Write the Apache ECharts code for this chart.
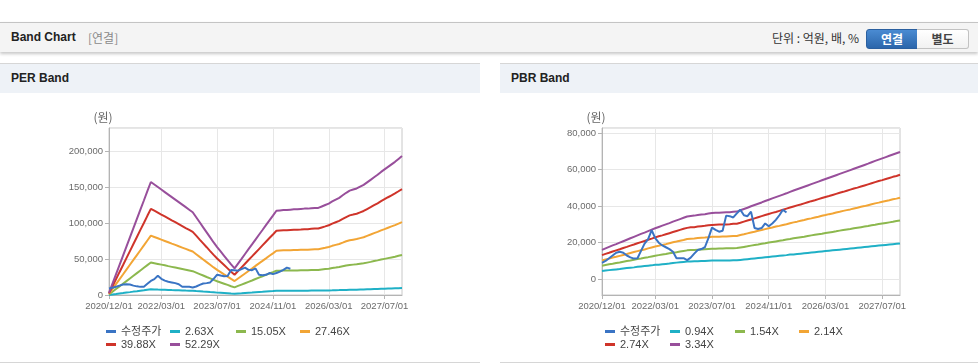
<!DOCTYPE html>
<html>
<head>
<meta charset="utf-8">
<script src="https://cdn.jsdelivr.net/npm/echarts@6/dist/echarts.min.js"></script>
<style>
html,body{margin:0;padding:0;}
body{width:978px;height:364px;background:#fff;position:relative;overflow:hidden;font-family:"Liberation Sans","Noto Sans CJK KR",sans-serif;}
.topbar{position:absolute;left:0;top:22px;width:978px;height:29px;background:#f4f4f4;border-top:1px solid #c4c4c4;box-shadow:0 2px 3px rgba(0,0,0,0.22);}
.topbar .ttl{position:absolute;left:11px;top:0;line-height:29px;font-size:12px;font-weight:bold;color:#222;}
.topbar .sub{position:absolute;left:88px;top:0;line-height:29px;font-size:12px;color:#8a8a8a;font-family:"Noto Sans CJK KR",sans-serif;}
.topbar .unit{position:absolute;right:119px;top:0;line-height:29px;font-size:12px;color:#333;font-family:"Noto Sans CJK KR",sans-serif;}
.btn{position:absolute;top:6px;height:18px;line-height:18px;width:50px;text-align:center;font-size:12px;font-weight:bold;font-family:"Noto Sans CJK KR",sans-serif;}
.btn.on{left:866px;background:linear-gradient(#4a8bd2,#2b66ab);color:#fff;border:1px solid #2a5f9f;border-radius:3px 0 0 3px;}
.btn.off{left:917px;background:linear-gradient(#ffffff,#f1f1f1);color:#444;border:1px solid #c2c2c2;border-left:none;border-radius:0 3px 3px 0;width:51px;}
.panel{position:absolute;top:63px;height:298px;border-top:1px solid #d6d6d6;border-bottom:1px solid #d6d6d6;background:#fff;}
.panel .hd{height:29px;line-height:29px;background:#eef2f7;padding-left:11px;font-size:12px;font-weight:bold;color:#222;}
.chart{position:absolute;top:93px;height:268px;}
</style>
</head>
<body>
<div class="topbar">
  <div class="ttl">Band Chart</div>
  <div class="sub">[연결]</div>
  <div class="unit">단위 : 억원, 배, %</div>
  <div class="btn on">연결</div>
  <div class="btn off">별도</div>
</div>
<div class="panel" style="left:0;width:480px;"><div class="hd">PER Band</div></div>
<div class="panel" style="left:500px;width:478px;"><div class="hd">PBR Band</div></div>
<div id="perChart" class="chart" style="left:0;width:480px;"></div>
<div id="pbrChart" class="chart" style="left:500px;width:478px;"></div>
<script>
const months = [
'2020/12/01',
'2021/01/01','2021/02/01','2021/03/01','2021/04/01','2021/05/01','2021/06/01','2021/07/01','2021/08/01','2021/09/01','2021/10/01','2021/11/01','2021/12/01',
'2022/01/01','2022/02/01','2022/03/01','2022/04/01','2022/05/01','2022/06/01','2022/07/01','2022/08/01','2022/09/01','2022/10/01','2022/11/01','2022/12/01',
'2023/01/01','2023/02/01','2023/03/01','2023/04/01','2023/05/01','2023/06/01','2023/07/01','2023/08/01','2023/09/01','2023/10/01','2023/11/01','2023/12/01',
'2024/01/01','2024/02/01','2024/03/01','2024/04/01','2024/05/01','2024/06/01','2024/07/01','2024/08/01','2024/09/01','2024/10/01','2024/11/01','2024/12/01',
'2025/01/01','2025/02/01','2025/03/01','2025/04/01','2025/05/01','2025/06/01','2025/07/01','2025/08/01','2025/09/01','2025/10/01','2025/11/01','2025/12/01',
'2026/01/01','2026/02/01','2026/03/01','2026/04/01','2026/05/01','2026/06/01','2026/07/01','2026/08/01','2026/09/01','2026/10/01','2026/11/01','2026/12/01',
'2027/01/01','2027/02/01','2027/03/01','2027/04/01','2027/05/01','2027/06/01','2027/07/01','2027/08/01','2027/09/01','2027/10/01','2027/11/01','2027/12/01'
];
const tickLabels = ['2020/12/01','2022/03/01','2023/07/01','2024/11/01','2026/03/01','2027/07/01'];

const adjPrice = [
9000,10000,11500,13000,14500,15000,14500,13000,12000,11300,
11500,15500,19500,22000,26800,22500,20000,18500,17500,16500,
15000,11500,11500,11500,10500,11800,14000,16000,16500,17500,
22500,28200,27000,26000,26500,34800,34500,33800,36000,38000,
35000,34500,37000,28000,27500,28000,30500,29000,30500,32500,
35000,38000,36500
];

const perNames = ['수정주가','2.63X','15.05X','27.46X','39.88X','52.29X'];
const per263 = [
150,800,1400,2100,2700,3400,4000,4700,5300,6000,
6600,7300,7900,7700,7500,7400,7200,7000,6800,6700,
6500,6300,6100,6000,5800,5400,5100,4700,4400,4000,
3700,3300,3000,2700,2400,2100,1900,2200,2500,2900,
3200,3500,3900,4200,4500,4900,5200,5500,5900,5900,
5900,5900,6000,6000,6000,6000,6000,6000,6100,6100,
6100,6200,6300,6400,6500,6700,6800,7000,7100,7300,
7400,7400,7600,7700,7900,8000,8200,8400,8600,8800,
9000,9100,9300,9500,9700];
const per1505 = [
900,4500,8300,11900,15600,19300,23000,26700,30400,34100,
37800,41500,45200,44200,43200,42200,41200,40100,39100,38100,
37100,36100,35100,34100,33100,31100,29100,27100,25000,23000,
21000,19100,17400,15700,14000,12200,10600,12600,14500,16400,
18300,20200,22200,24100,26000,27900,29800,31700,33700,33800,
34000,34000,34100,34200,34200,34400,34500,34500,34700,34800,
34800,35400,36000,36600,37400,38100,38900,39900,40900,41700,
42200,42600,43300,44000,45000,46000,47100,48100,49200,50200,
51200,52200,53200,54400,55500];
const per2746 = [
1600,8300,15100,21800,28500,35300,42000,48700,55500,62200,
68900,75700,82400,80600,78800,76900,75100,73300,71400,69600,
67700,65900,64100,62200,60400,56700,53000,49400,45700,42000,
38300,34900,31800,28600,25500,22300,19400,22900,26400,29900,
33400,36900,40400,44000,47400,50900,54500,57900,61400,61700,
62000,62000,62200,62500,62500,62800,63000,63000,63300,63500,
63500,64600,65600,66700,68300,69600,70900,72700,74600,76100,
76900,77700,79000,80300,82200,84000,85900,87700,89800,91600,
93500,95300,97100,99200,101300];
const per3988 = [
2300,12100,21900,31700,41400,51300,61000,70800,80600,90400,
100100,110000,119700,117100,114400,111700,109100,106400,103700,101100,
98400,95700,93000,90400,87700,82400,77000,71700,66400,61000,
55700,50700,46100,41600,37000,32400,28200,33300,38400,43500,
48600,53600,58700,63800,68900,74000,79100,84100,89200,89600,
90000,90000,90400,90800,90800,91100,91500,91500,91900,92300,
92300,93800,95300,96900,99200,101100,103000,105600,108300,110600,
111700,112900,114800,116700,119400,122000,124700,127400,130400,133100,
135800,138400,141100,144100,147200];
const per5229 = [
3000,15800,28700,41500,54300,67200,80000,92800,105700,118500,
131300,144200,157000,153500,150000,146500,143000,139500,136000,132500,
129000,125500,122000,118500,115000,108000,101000,94000,87000,80000,
73000,66500,60500,54500,48500,42500,37000,43700,50300,57000,
63700,70300,77000,83700,90300,97000,103700,110300,117000,117500,
118000,118000,118500,119000,119000,119500,120000,120000,120500,121000,
121000,123000,125000,127000,130000,132500,135000,138500,142000,145000,
146500,148000,150500,153000,156500,160000,163500,167000,171000,174500,
178000,181500,185000,189000,193000];

const pbrNames = ['수정주가','0.94X','1.54X','2.14X','2.74X','3.34X'];
const pbr094 = [
4500,4800,5000,5200,5400,5600,5900,6100,6300,6500,
6800,7000,7200,7400,7600,7900,8000,8200,8400,8600,
8900,9100,9300,9500,9700,9700,9800,9900,10000,10000,
10100,10200,10200,10200,10300,10300,10300,10400,10400,10600,
10800,11000,11200,11400,11600,11800,12000,12200,12400,12600,
12800,13000,13200,13500,13600,13800,14000,14200,14400,14600,
14800,15000,15200,15400,15600,15800,16000,16200,16400,16600,
16800,17000,17200,17400,17600,17800,18000,18200,18400,18600,
18800,19000,19200,19400,19600];
const pbr154 = [
7400,7800,8200,8500,8900,9200,9600,10000,10300,10700,
11100,11400,11800,12100,12500,12900,13200,13500,13800,14200,
14500,14800,15200,15500,15800,16000,16000,16200,16300,16400,
16600,16700,16700,16800,16800,16900,16900,17000,17100,17400,
17700,18000,18400,18700,19000,19400,19700,20100,20400,20700,
21000,21300,21700,22000,22400,22700,23000,23300,23700,24000,
24300,24600,24900,25300,25600,25900,26200,26600,26900,27200,
27500,27900,28200,28500,28800,29100,29500,29800,30200,30500,
30800,31100,31400,31800,32100];
const pbr214 = [
10300,10800,11300,11900,12300,12800,13300,13800,14400,14900,
15400,15900,16300,16900,17400,17900,18300,18800,19200,19700,
20200,20600,21100,21500,22000,22200,22300,22500,22700,22800,
23000,23200,23300,23300,23400,23400,23500,23600,23700,24200,
24600,25100,25600,26000,26500,26900,27400,27900,28300,28800,
29200,29700,30100,30600,31100,31500,32000,32400,32900,33300,
33800,34200,34700,35100,35600,36000,36500,36900,37400,37800,
38200,38700,39100,39600,40000,40500,41000,41500,41900,42400,
42800,43200,43700,44100,44600];
const pbr274 = [
13200,13900,14500,15200,15800,16400,17100,17700,18400,19000,
19700,20300,20900,21600,22200,22900,23500,24000,24600,25200,
25800,26400,27000,27600,28100,28400,28500,28800,29000,29200,
29500,29700,29800,29900,29900,30000,30100,30300,30400,30900,
31500,32100,32700,33300,33900,34500,35100,35700,36300,36800,
37400,38000,38600,39200,39800,40400,40900,41500,42100,42700,
43200,43800,44400,45000,45500,46100,46700,47300,47800,48400,
49000,49600,50100,50700,51300,51900,52500,53100,53700,54200,
54800,55400,56000,56500,57100];
const pbr334 = [
16100,16900,17700,18500,19200,20000,20800,21600,22400,23200,
24000,24800,25500,26300,27100,27900,28600,29300,30000,30700,
31500,32200,32900,33600,34300,34600,34800,35100,35400,35600,
35900,36200,36300,36400,36500,36600,36700,36900,37000,37700,
38400,39100,39900,40600,41300,42000,42800,43500,44200,44900,
45600,46300,47000,47800,48500,49200,49900,50600,51300,52000,
52700,53400,54100,54800,55500,56200,56900,57600,58300,59000,
59700,60400,61100,61800,62500,63200,64000,64700,65400,66100,
66800,67500,68200,68900,69600];

const colors = ['#3a74c4','#1fb0c6','#8cb84e','#f2a535','#cf342a','#984f9b'];
const axisFont = '"Liberation Sans",sans-serif';
const tickSet = new Set(tickLabels);
const showTick = (idx, val) => tickSet.has(val === undefined ? months[idx] : val);

function build(el, names, bands, yCfg, gridLeft, legendCols) {
  const chart = echarts.init(document.getElementById(el), null, {renderer: 'canvas'});
  const all = [adjPrice].concat(bands);
  const series = [];
  for (let k = 1; k < all.length; k++) {
    series.push({name: names[k], type: 'line', data: all[k], symbol: 'none', showSymbol: false,
      lineStyle: {width: 2, color: colors[k]}, itemStyle: {color: colors[k]}, z: 2, silent: true});
  }
  series.push({name: names[0], type: 'line', data: all[0], symbol: 'none', showSymbol: false,
    lineStyle: {width: 2, color: colors[0]}, itemStyle: {color: colors[0]}, z: 3, silent: true});
  const legends = names.map((n, k) => ({
    left: legendCols[k % 4], top: k < 4 ? 233 : 246, padding: 0, itemGap: 0, itemWidth: 10, itemHeight: 3,
    icon: 'rect', selectedMode: false, data: [n],
    textStyle: {fontSize: 11, color: '#444', fontFamily: '"Liberation Sans","Noto Sans CJK KR",sans-serif'}
  }));
  chart.setOption({
    animation: false,
    grid: {left: gridLeft, right: 78, top: 35, bottom: 66, show: true, borderColor: '#c8c8c8', borderWidth: 1},
    legend: legends,
    xAxis: {
      type: 'category', data: months, boundaryGap: false,
      axisLine: {onZero: false, lineStyle: {color: '#b4b4b4'}},
      axisTick: {show: true, interval: showTick, length: 4, lineStyle: {color: '#b4b4b4'}},
      axisLabel: {interval: showTick, showMinLabel: true, hideOverlap: false, color: '#6b6b6b', fontSize: 9.5, fontFamily: axisFont, margin: 6},
      splitLine: {show: true, interval: showTick, lineStyle: {color: '#e7e7e7'}}
    },
    yAxis: Object.assign({
      type: 'value', name: '(원)', nameLocation: 'end', nameGap: 5,
      nameTextStyle: {color: '#666', fontSize: 12, padding: [0, 12, 0, 0], fontFamily: '"Noto Sans CJK KR",sans-serif'},
      axisLine: {show: true, lineStyle: {color: '#b4b4b4'}},
      axisTick: {show: true, length: 4, lineStyle: {color: '#b4b4b4'}},
      splitLine: {show: true, lineStyle: {color: '#e7e7e7'}}
    }, yCfg),
    series: series
  });
}

function fmt(step) {
  return function (v) {
    if (v === 0) return '0';
    if (Math.abs(v % step) > 1e-6) return '';
    return Math.round(v).toLocaleString('en-US');
  };
}

build('perChart', perNames, [per263, per1505, per2746, per3988, per5229],
  {min: 0, max: 232000, interval: 50000,
   axisLabel: {formatter: fmt(50000), showMaxLabel: false, color: '#6b6b6b', fontSize: 9.5, fontFamily: axisFont, margin: 6}},
  109, [106, 170, 236, 300]);

build('pbrChart', pbrNames, [pbr094, pbr154, pbr214, pbr274, pbr334],
  {min: -8600, max: 82700, splitNumber: 5,
   axisLabel: {formatter: fmt(20000), showMinLabel: false, showMaxLabel: false, color: '#6b6b6b', fontSize: 9.5, fontFamily: axisFont, margin: 6}},
  102, [105, 170, 235, 299]);
</script>
</body>
</html>
